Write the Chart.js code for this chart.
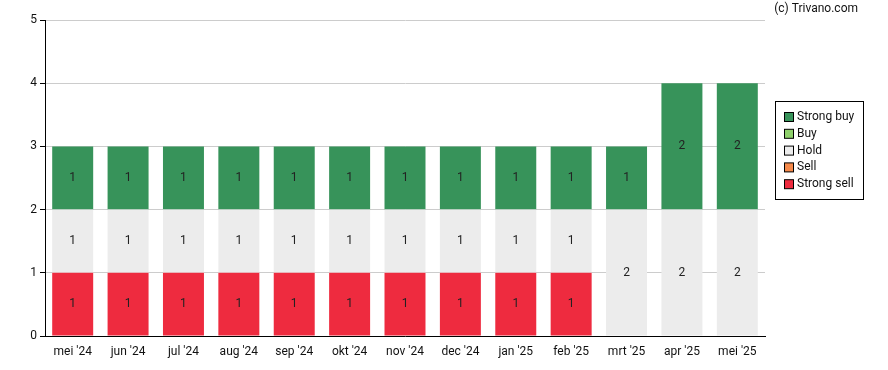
<!DOCTYPE html>
<html lang="nl">
<head>
<meta charset="UTF-8">
<title>Analistenadviezen</title>
<script src="https://cdn.jsdelivr.net/npm/chart.js@4"></script>
<style>
  html, body { margin: 0; padding: 0; background: #fff; }
  #wrap { position: relative; width: 888px; height: 370px; }
</style>
</head>
<body>
<div id="wrap"><canvas id="advice" width="888" height="370"></canvas></div>
<script>
// data
const months = ["mei '24", "jun '24", "jul '24", "aug '24", "sep '24", "okt '24", "nov '24",
                "dec '24", "jan '25", "feb '25", "mrt '25", "apr '25", "mei '25"];
const strongSell = [1, 1, 1, 1, 1, 1, 1, 1, 1, 1, 0, 0, 0];
const sell       = [0, 0, 0, 0, 0, 0, 0, 0, 0, 0, 0, 0, 0];
const hold       = [1, 1, 1, 1, 1, 1, 1, 1, 1, 1, 2, 2, 2];
const buy        = [0, 0, 0, 0, 0, 0, 0, 0, 0, 0, 0, 0, 0];
const strongBuy  = [1, 1, 1, 1, 1, 1, 1, 1, 1, 1, 1, 2, 2];
const yTicks = [0, 1, 2, 3, 4, 5];

const FONT = 'Roboto, "Liberation Sans", sans-serif';
const legendItems = [
  { label: 'Strong buy',  color: '#37935a' },
  { label: 'Buy',         color: '#8fd16c' },
  { label: 'Hold',        color: '#ececec' },
  { label: 'Sell',        color: '#f5894a' },
  { label: 'Strong sell', color: '#ee2b3f' }
];

// numbers inside the bar segments
const barLabels = {
  id: 'barLabels',
  afterDatasetsDraw(chart) {
    const ctx = chart.ctx;
    ctx.save();
    ctx.font = '12px ' + FONT;
    ctx.fillStyle = '#222';
    ctx.textAlign = 'center';
    ctx.textBaseline = 'middle';
    chart.data.datasets.forEach((ds, i) => {
      const meta = chart.getDatasetMeta(i);
      meta.data.forEach((bar, j) => {
        const v = ds.data[j];
        if (!v) return;
        ctx.fillText(String(v), bar.x, (bar.y + bar.base) / 2);
      });
    });
    ctx.restore();
  }
};

// boxed legend on the right plus copyright
const sideLegend = {
  id: 'sideLegend',
  afterDraw(chart) {
    const ctx = chart.ctx;
    ctx.save();
    ctx.strokeStyle = '#000';
    ctx.lineWidth = 1;
    ctx.strokeRect(775.5, 101.5, 88, 98);
    ctx.font = '12px ' + FONT;
    ctx.textBaseline = 'middle';
    legendItems.forEach((it, k) => {
      const cy = 117 + k * 16.8;
      ctx.fillStyle = it.color;
      ctx.fillRect(784.5, cy - 4.5, 9, 9);
      ctx.strokeStyle = '#000';
      ctx.strokeRect(784.5, cy - 4.5, 9, 9);
      ctx.fillStyle = '#111';
      ctx.textAlign = 'left';
      ctx.fillText(it.label, 797, cy);
    });
    ctx.font = '12px ' + FONT;
    ctx.textAlign = 'right';
    ctx.fillStyle = '#111';
    ctx.fillText('(c) Trivano.com', 858, 9);
    ctx.restore();
  }
};

const mk = (label, data, color) => ({
  label: label,
  data: data,
  backgroundColor: color,
  borderWidth: 0,
  barPercentage: 0.74,
  categoryPercentage: 1.0
});

new Chart(document.getElementById('advice').getContext('2d'), {
  type: 'bar',
  data: {
    labels: months,
    datasets: [
      mk('Strong sell', strongSell, legendItems[4].color),
      mk('Sell', sell, legendItems[3].color),
      mk('Hold', hold, legendItems[2].color),
      mk('Buy', buy, legendItems[1].color),
      mk('Strong buy', strongBuy, legendItems[0].color)
    ]
  },
  options: {
    responsive: false,
    animation: false,
    layout: { padding: { left: 0, right: 123, top: 20, bottom: 0 } },
    plugins: { legend: { display: false }, tooltip: { enabled: false } },
    scales: {
      x: {
        stacked: true,
        grid: { display: false, drawOnChartArea: false, drawTicks: true, tickLength: 5, color: '#000' },
        border: { color: '#000', width: 1 },
        ticks: { color: '#111', font: { family: FONT, size: 12 }, padding: 4, maxRotation: 0, autoSkip: false },
        afterFit(s) { s.height = 34; }
      },
      y: {
        stacked: true,
        min: 0,
        max: 5,
        afterBuildTicks(s) { s.ticks = yTicks.map(v => ({ value: v })); },
        grid: { color: '#cccccc', tickColor: '#000', tickLength: 5 },
        border: { color: '#000', width: 1 },
        ticks: { color: '#111', font: { family: FONT, size: 12 }, padding: 3 },
        afterFit(s) { s.width = 45; }
      }
    }
  },
  plugins: [barLabels, sideLegend]
});
</script>
</body>
</html>
